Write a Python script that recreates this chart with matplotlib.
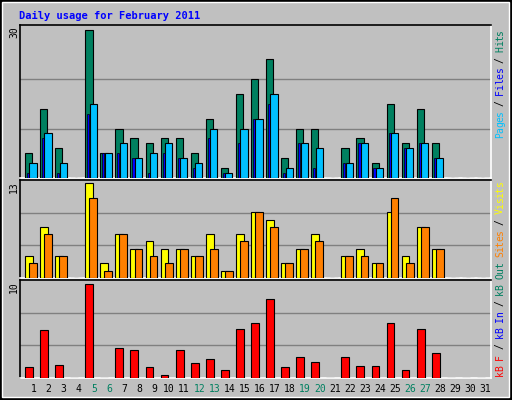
import matplotlib
matplotlib.use("Agg")
import matplotlib.pyplot as plt
from matplotlib.patches import Rectangle
import numpy as np

days = list(range(1, 32))
hits  = [5,14,6,0,30,5,10,8,7,8,8,5,12,2,17,20,24,4,10,10,0,6,8,3,15,7,14,7,0,0,0]
files = [3,9,3,0,15,5,7,4,5,7,4,3,10,1,10,12,17,2,7,6,0,3,7,2,9,6,7,4,0,0,0]
pages = [1,8,1,0,13,5,5,4,1,5,4,2,8,1,7,12,15,1,7,2,0,3,7,2,9,6,7,4,0,0,0]
visits = [3,7,3,0,13,2,6,4,5,4,4,3,6,1,6,9,8,2,4,6,0,3,4,2,9,3,7,4,0,0,0]
sites  = [2,6,3,0,11,1,6,4,3,2,4,3,4,1,5,9,7,2,4,5,0,3,3,2,11,2,7,4,0,0,0]
kbytes = [1.13,5.07,1.35,0,10,0,3.2,3.0,1.13,0.36,3.0,1.57,2.0,0.8,5.2,5.84,8.36,1.13,2.2,1.68,0,2.2,1.24,1.24,5.84,0.8,5.2,2.66,0,0,0]
weekends = [5,6,12,13,19,20,26,27]

W, H = 512, 400
fig = plt.figure(figsize=(5.12, 4.0), dpi=100)
fig.patch.set_facecolor("#c0c0c0")
bg = fig.add_axes([0, 0, 1, 1]); bg.set_axis_off()
bg.set_xlim(0, W); bg.set_ylim(H, 0)
bg.add_patch(Rectangle((0.5, 0.5), W-1.5, H-1.5, fill=False, ec="black", lw=1.5))
bg.add_patch(Rectangle((2, 2), W-5, H-5, fill=False, ec="white", lw=1))
mono = "DejaVu Sans Mono"
bg.text(19, 16, "Daily usage for February 2011", color="#0000ff", fontsize=7.5,
        fontweight="bold", family=mono, va="center")

def ax_at(x0, y0, x1, y1):
    a = fig.add_axes([x0/W, 1-y1/H, (x1-x0)/W, (y1-y0)/H])
    a.set_facecolor("#c0c0c0")
    a.set_xlim(0.137, 31.4)
    a.set_xticks([]); a.set_yticks([])
    for s in a.spines.values():
        s.set_color("white"); s.set_linewidth(1.2)
    a.spines["left"].set_color("black"); a.spines["top"].set_color("black")
    return a

d = np.array(days)
ec = dict(edgecolor="black", linewidth=0.8, zorder=3)

a1 = ax_at(20, 25, 491, 178)
a1.set_ylim(0, 30/0.97)
for g in (10, 20): a1.axhline(g, color="#808080", lw=1, zorder=1)
a1.bar(d-0.29, hits, width=0.48, color="#008060", **ec)
a1.bar(d-0.33, pages, width=0.14, color="#0000ff", edgecolor="black", linewidth=0.5, zorder=4)
a1.bar(d-0.0, files, width=0.48, color="#00c0ff", edgecolor="black", linewidth=0.8, zorder=5)

a2 = ax_at(20, 180, 491, 278)
a2.set_ylim(0, 13/0.97)
for g in (13/0.97/3, 13/0.97*2/3): a2.axhline(g, color="#808080", lw=1, zorder=1)
a2.bar(d-0.27, visits, width=0.52, color="#ffff00", **ec)
a2.bar(d-0.0, sites, width=0.52, color="#ff8000", edgecolor="black", linewidth=0.8, zorder=4)

a3 = ax_at(20, 280, 491, 378)
a3.set_ylim(0, 10/0.96)
for g in (10/0.96/3, 10/0.96*2/3): a3.axhline(g, color="#808080", lw=1, zorder=1)
a3.bar(d-0.27, kbytes, width=0.52, color="#ff0000", **ec)

for dd in days:
    x = 20 + (dd - 0.137) * 15.07
    bg.text(x+0.5, 389, str(dd), color="#008060" if dd in weekends else "black",
            fontsize=7, family=mono, ha="center", va="center")

for lab, y in (("30", 32), ("13", 187), ("10", 287)):
    bg.text(14, y, lab, rotation=90, fontsize=7, family=mono, ha="center", va="center")

def vlabel(y_bottom, segs, step=5.4):
    y = y_bottom
    for txt, col in segs:
        for ch in txt:
            if ch != " ":
                bg.text(500, y - step/2, ch, rotation=90, color=col, fontsize=7,
                        family=mono, ha="center", va="center")
            y -= step

vlabel(138, [("Pages", "#00c0ff"), (" / ", "black"), ("Files", "#0000ff"),
             (" / ", "black"), ("Hits", "#008060")])
vlabel(376, [("kB F", "#ff0000"), (" / ", "black"), ("kB In", "#0000ff"),
             (" / ", "black"), ("kB Out", "#008060"), (" ", "black"),
             ("Sites", "#ff8000"), (" / ", "black"), ("Visits", "#ffff00")])

fig.savefig("out.png", dpi=100, facecolor=fig.get_facecolor())
